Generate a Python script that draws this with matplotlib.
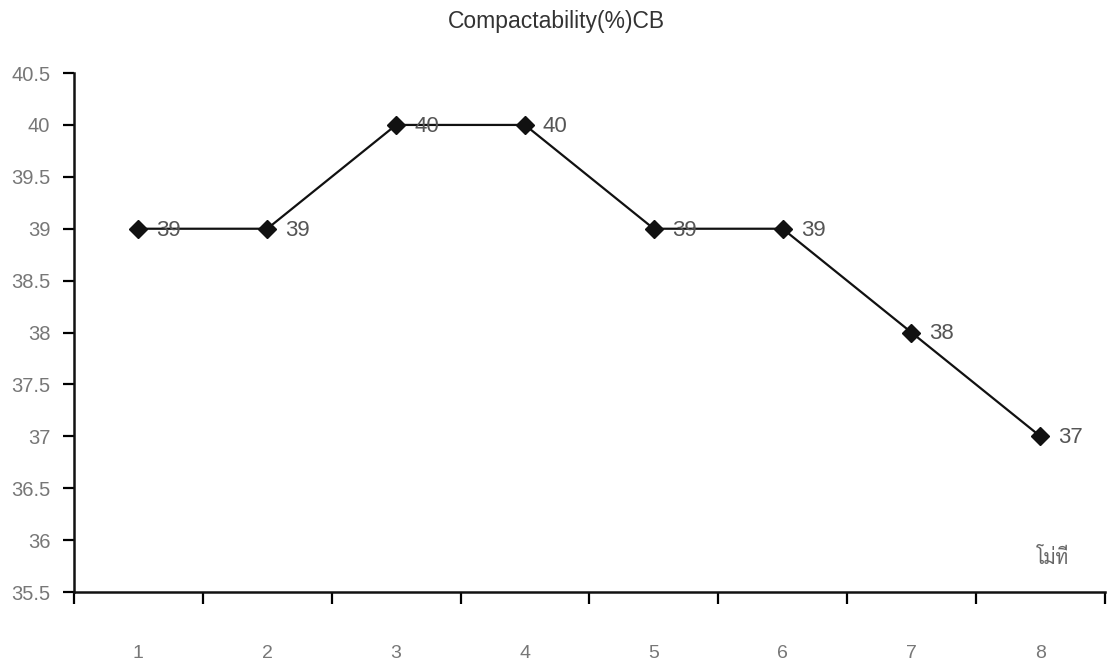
import matplotlib
matplotlib.use("Agg")
import matplotlib.pyplot as plt
from matplotlib import font_manager
from matplotlib.ft2font import FT2Font
from matplotlib.ticker import FixedLocator, MultipleLocator, NullFormatter

# mould number and compactability readings
moulds = ["1", "2", "3", "4", "5", "6", "7", "8"]
compactability = [39, 39, 40, 40, 39, 39, 38, 37]
title = "Compactability(%)CB"
axis_note = "โม่ที่"


def thai_font():
    # prefer a looped Thai face, else anything that has Thai glyphs
    paths = font_manager.findSystemFonts()
    for name in ("Sarabun-Regular", "Maitree-Regular", "Maitree-Light"):
        for p in paths:
            if name in p:
                return font_manager.FontProperties(fname=p)
    for p in paths:
        try:
            if 0x0E42 in FT2Font(p).get_charmap() and "unifont" not in p:
                return font_manager.FontProperties(fname=p)
        except Exception:
            continue
    return None


plt.rcParams["font.family"] = ["Liberation Sans", "DejaVu Sans"]

fig = plt.figure(figsize=(11.12, 6.64), dpi=100)
ax = fig.add_axes([0.0665, 0.1084, 0.927, 0.7816])

x = list(range(1, len(moulds) + 1))
ax.plot(x, compactability, color="#111111", lw=1.6, marker="D",
        markersize=9.5, markerfacecolor="#111111", zorder=3)

for xi, v in zip(x, compactability):
    ax.annotate(f"{v:g}", (xi, v), xytext=(13, -1), textcoords="offset points",
                ha="left", va="center", fontsize=16, color="#555555")

ax.set_xlim(0.5, len(moulds) + 0.5)
ax.set_ylim(35.5, 40.5)
ax.yaxis.set_major_locator(MultipleLocator(0.5))
ax.yaxis.set_major_formatter(lambda v, p: f"{v:g}")

# ticks sit on category boundaries, labels in the middle
ax.xaxis.set_major_locator(FixedLocator([i + 0.5 for i in range(len(moulds) + 1)]))
ax.xaxis.set_major_formatter(NullFormatter())
ax.xaxis.set_minor_locator(FixedLocator(x))
ax.set_xticklabels(moulds, minor=True)

ax.tick_params(axis="x", which="major", direction="out", length=8.5, width=1.6)
ax.tick_params(axis="x", which="minor", length=0, pad=38, labelsize=14,
               labelcolor="#777777")
ax.tick_params(axis="y", direction="out", length=8, width=1.6, pad=9,
               labelsize=14.5, labelcolor="#777777")

for side in ("top", "right"):
    ax.spines[side].set_visible(False)
for side in ("left", "bottom"):
    ax.spines[side].set_linewidth(1.8)
    ax.spines[side].set_color("#111111")

fig.text(0.5, 0.968, title, ha="center", va="center", fontsize=16.5,
         color="#333333")

fp = thai_font()
if fp is not None:
    fp.set_size(14)
    ax.text(0.950, 0.065, axis_note, transform=ax.transAxes, ha="center",
            va="center", fontproperties=fp, color="#666666")

fig.savefig("out.png", dpi=100)
